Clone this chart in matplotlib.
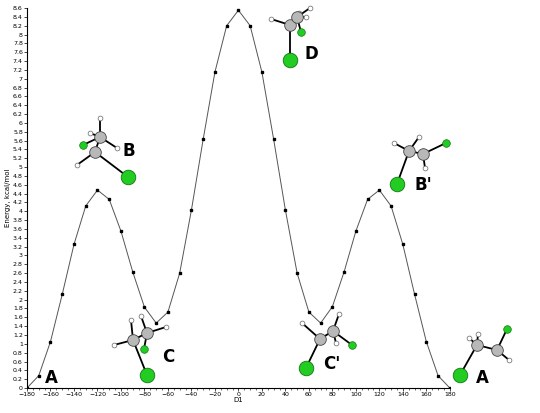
import matplotlib.pyplot as plt
import numpy as np

d1 = list(range(-180, 181, 10))
energy = [0.0, 0.28, 1.05, 2.12, 3.25, 4.12, 4.48, 4.27, 3.55, 2.63, 1.83, 1.47,
          1.72, 2.6, 4.03, 5.63, 7.15, 8.2, 8.55, 8.2, 7.15, 5.63, 4.03, 2.6,
          1.72, 1.47, 1.84, 2.63, 3.55, 4.27, 4.48, 4.12, 3.25, 2.12, 1.05, 0.28, 0.0]

fig = plt.figure(figsize=(5.4, 4.13), dpi=100)
ax = fig.add_axes([0.05, 0.0605, 0.783, 0.92])
ax.plot(d1, energy, color='#555555', lw=0.7, marker='s', ms=1.5, mfc='black', mec='black')
ax.set_xlim(-180, 180)
ax.set_ylim(0, 8.6)
ax.set_xticks(range(-180, 181, 20))
ax.set_xticks(range(-180, 181, 5), minor=True)
ax.set_yticks(np.arange(0, 8.61, 0.2))
ax.set_yticklabels(['%g' % round(v, 1) for v in np.arange(0, 8.61, 0.2)])
ax.tick_params(labelsize=4.5, length=2, width=0.5, pad=1)
ax.tick_params(which='minor', length=1.2, width=0.4)
ax.spines['top'].set_visible(False)
ax.spines['right'].set_visible(False)
ax.set_xlabel('D1', fontsize=5, labelpad=0)
ax.set_ylabel('Energy, kcal/mol', fontsize=5, labelpad=1)

# overlay in pixel coords for molecule sketches
ov = fig.add_axes([0, 0, 1, 1])
ov.set_xlim(0, 540)
ov.set_ylim(413, 0)
ov.axis('off')

def molecule(c1, c2, clb, cls, hs, label, lpos):
    for a, b in [(c1, c2), (c1, clb), (c2, cls)] + [(c1 if np.hypot(h[0]-c1[0], h[1]-c1[1]) < np.hypot(h[0]-c2[0], h[1]-c2[1]) else c2, h) for h in hs]:
        ov.plot([a[0], b[0]], [a[1], b[1]], color='black', lw=1.3, zorder=1)
    for h in hs:
        ov.scatter(*h, s=12, color='white', edgecolor='#666666', lw=0.5, zorder=2)
    for c in (c1, c2):
        ov.scatter(*c, s=70, color='#b8b8b8', edgecolor='#444444', lw=0.6, zorder=3)
    ov.scatter(*cls, s=30, color='#22cc22', edgecolor='#117711', lw=0.5, zorder=3)
    ov.scatter(*clb, s=110, color='#22cc22', edgecolor='#117711', lw=0.6, zorder=3)
    ov.text(lpos[0], lpos[1], label, fontsize=12, fontweight='bold', ha='left', va='center')

molecule((95, 152), (100, 137), (128, 177), (83, 145), [(100, 118), (77, 165), (90, 133), (117, 148)], 'B', (123, 151))
molecule((133, 340), (147, 333), (147, 375), (144, 349), [(131, 320), (141, 316), (114, 345), (166, 327)], 'C', (162, 357))
molecule((290, 25), (297, 17), (290, 60), (301, 32), [(310, 8), (306, 17), (271, 19), (299, 13)], 'D', (304, 54))
molecule((409, 151), (423, 154), (397, 184), (446, 143), [(394, 143), (419, 137), (425, 168)], "B'", (414, 185))
molecule((320, 339), (333, 331), (306, 368), (352, 345), [(302, 323), (339, 314), (336, 343)], "C'", (323, 364))
molecule((477, 345), (497, 350), (460, 375), (507, 329), [(478, 334), (509, 360), (469, 338)], 'A', (476, 378))
ov.text(45, 378, 'A', fontsize=12, fontweight='bold', ha='left', va='center')

fig.savefig('out.png', dpi=100)
